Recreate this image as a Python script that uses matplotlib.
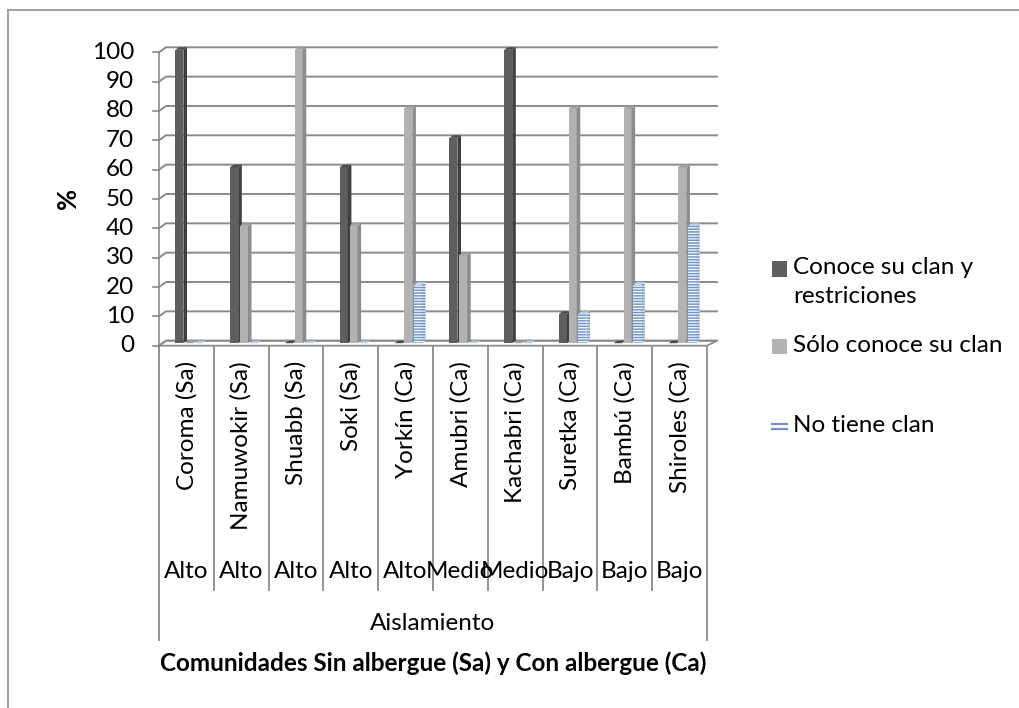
import matplotlib
matplotlib.use("Agg")
import matplotlib.pyplot as plt
from matplotlib.patches import Polygon, Rectangle
from matplotlib.lines import Line2D
from matplotlib.transforms import blended_transform_factory

# data
communities = ["Coroma (Sa)", "Namuwokir (Sa)", "Shuabb (Sa)", "Soki (Sa)", "Yorkín (Ca)",
               "Amubri (Ca)", "Kachabri (Ca)", "Suretka (Ca)", "Bambú (Ca)", "Shiroles (Ca)"]
isolation = ["Alto", "Alto", "Alto", "Alto", "Alto", "Medio", "Medio", "Bajo", "Bajo", "Bajo"]
knows_clan_rules = [100, 60, 0, 60, 0, 70, 100, 10, 0, 0]
knows_clan_only = [0, 40, 100, 40, 80, 30, 0, 80, 80, 60]
no_clan = [0, 0, 0, 0, 20, 0, 0, 10, 20, 40]
series_names = ["Conoce su clan y\nrestriciones", "Sólo conoce su clan", "No tiene clan"]
y_ticks = list(range(0, 101, 10))

plt.rcParams["font.family"] = ["Lato", "DejaVu Sans"]
plt.rcParams["hatch.linewidth"] = 1.1
FS = 17.5

W, H = 1019, 708
fig = plt.figure(figsize=(W / 100, H / 100), dpi=100)

# plot area in pixels: x 0..10 -> 159..707, y 0..100 -> 345.7..52.3
x0_px, x1_px = 159, 707
y0_px, y1_px = 345.7, 52.3
ax = fig.add_axes([x0_px / W, 1 - y0_px / H, (x1_px - x0_px) / W, (y0_px - y1_px) / H])
ax.set_xlim(0, 10)
ax.set_ylim(0, 100)
ax.axis("off")

ux = 10 / (x1_px - x0_px)   # data per pixel
uy = 100 / (y0_px - y1_px)


def depth_dx(x):
    return (7 + 0.3 * x) * ux


DY = 5 * uy
grid_c = "#8a8a8a"

# floor
floor = Polygon([(0, 0), (10, 0), (10 + depth_dx(10), DY), (depth_dx(0), DY)],
                closed=True, facecolor="white", edgecolor=grid_c, lw=1.3, zorder=1, clip_on=False)
ax.add_patch(floor)

# gridlines on back wall + side wall diagonals
for v in y_ticks:
    ax.add_line(Line2D([0, depth_dx(0), 10 + depth_dx(10)], [v, v + DY, v + DY],
                       color=grid_c, lw=1.4, zorder=2, clip_on=False))
    ax.add_line(Line2D([-6 * ux, 0], [v, v], color=grid_c, lw=1.2, zorder=2, clip_on=False))
    ax.text(-25 * ux, v, str(v), ha="right", va="center", fontsize=FS, color="black")
ax.add_line(Line2D([0, 0], [0, 100], color=grid_c, lw=1.2, zorder=2, clip_on=False))

# bars
raise_y = 2.5 * uy
bar_w = 8.0 / 54.8
pitch = 9.7 / 54.8
first_off = 16.4 / 54.8
sx, sy = 3.6 * ux, 2.5 * uy

styles = [
    dict(front="#5e5e5e", side="#3e3e3e", top="#4a4a4a", hatch=None),
    dict(front="#b2b2b2", side="#8c8c8c", top="#a0a0a0", hatch=None),
    dict(front="white", side="#e4ebf5", top="#b9cde6", hatch="------"),
]
hatch_c = "#6f95c8"
all_series = [knows_clan_rules, knows_clan_only, no_clan]

for k, (vals, st) in enumerate(zip(all_series, styles)):
    z = 5 + k
    lefts = [i + first_off + k * pitch for i in range(len(vals))]
    if st["hatch"]:
        ax.bar(lefts, vals, width=bar_w, bottom=raise_y, align="edge", facecolor=st["front"],
               edgecolor=hatch_c, hatch=st["hatch"], lw=0, zorder=z, clip_on=False)
    else:
        ax.bar(lefts, vals, width=bar_w, bottom=raise_y, align="edge", color=st["front"],
               lw=0, zorder=z, clip_on=False)
    for xl, v in zip(lefts, vals):
        xr = xl + bar_w
        b, t = raise_y, raise_y + v
        side = Polygon([(xr, b), (xr + sx, b + sy), (xr + sx, t + sy), (xr, t)], closed=True,
                       facecolor=st["side"], lw=0, zorder=z, clip_on=False)
        if st["hatch"]:
            side.set_hatch(st["hatch"])
            side.set_edgecolor(hatch_c)
        ax.add_patch(side)
        ax.add_patch(Polygon([(xl, t), (xr, t), (xr + sx, t + sy), (xl + sx, t + sy)], closed=True,
                             facecolor=st["top"], lw=0, zorder=z, clip_on=False))

# category axis (multi-level)
bt = blended_transform_factory(ax.transData, fig.transFigure)


def fy(py):
    return 1 - py / H


for i in range(11):
    bottom = 640 if i in (0, 10) else 590
    fig.add_artist(Line2D([i, i], [fy(347), fy(bottom)], transform=bt, color=grid_c, lw=1.3))
for i, (name, iso) in enumerate(zip(communities, isolation)):
    fig.text(i + 0.5, fy(361), name, transform=bt, rotation=90, ha="center", va="top", fontsize=FS)
    fig.text(i + 0.5, fy(572), iso, transform=bt, ha="center", va="center", fontsize=FS)
fig.text(5, fy(624), "Aislamiento", transform=bt, ha="center", va="center", fontsize=FS)
fig.text(5, fy(663), "Comunidades Sin albergue (Sa) y Con albergue (Ca)", transform=bt,
         ha="center", va="center", fontsize=FS, fontweight="bold")
fig.text(68 / W, fy(198), "%", rotation=90, ha="center", va="center", fontsize=FS + 1,
         fontweight="bold")

# legend
leg_x = 772
leg_rows = [269, 346, 426]
for (name, st, ry) in zip(series_names, styles, leg_rows):
    if st["hatch"]:
        for dy_ in (-2.5, 2.5):
            fig.add_artist(Line2D([leg_x / W, (leg_x + 15) / W], [fy(ry + dy_), fy(ry + dy_)],
                                  color=hatch_c, lw=1.6))
    else:
        fig.add_artist(Rectangle((leg_x / W, fy(ry + 7.5)), 15 / W, 15 / H, transform=fig.transFigure,
                                 facecolor=st["front"], lw=0))
    if "\n" in name:
        fig.text((leg_x + 21) / W, fy(ry - 12), name, ha="left", va="top", fontsize=FS,
                 linespacing=1.45)
    else:
        fig.text((leg_x + 21) / W, fy(ry), name, ha="left", va="center", fontsize=FS)

# chart border
fig.add_artist(Line2D([7.5 / W, 7.5 / W], [fy(10), 0], color="#9a9a9a", lw=1.3))
fig.add_artist(Line2D([7.5 / W, 1], [fy(10), fy(10)], color="#9a9a9a", lw=1.3))

fig.savefig("out.png", dpi=100)
